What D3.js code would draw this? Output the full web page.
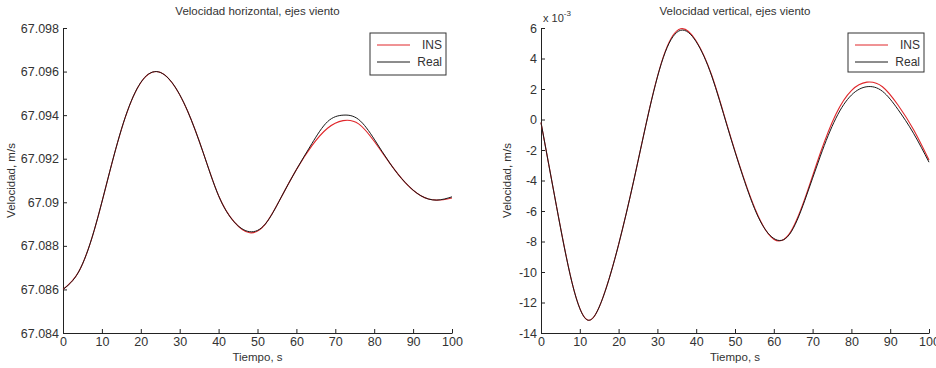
<!DOCTYPE html>
<html>
<head>
<meta charset="utf-8">
<script src="https://cdn.jsdelivr.net/npm/d3@7"></script>
<style>
body{margin:0;background:#fff;}
svg{display:block;font-family:"Liberation Sans",Arial,sans-serif;}
</style>
</head>
<body>
<svg width="936" height="368"></svg>
<script>
// time axis, seconds
var timeS=[0,4,8,12,16,20,24,28,32,36,40,44,48,52,56,60,64,68,72,76,80,84,88,92,96,100];

// horizontal velocity, wind axes (m/s)
var hReal=[67.0860,67.0868,67.0887,67.0914,67.0939,67.0955,67.0960,67.0955,67.0942,67.0923,67.0903,67.0891,67.08865,67.0890,67.0902,67.0915,67.0927,67.0937,67.0940,67.0938,67.0929,67.0918,67.0909,67.0903,67.0901,67.09025];
var hIns=[67.0860,67.0868,67.0887,67.0914,67.0939,67.0955,67.0960,67.0955,67.0942,67.0923,67.0903,67.0891,67.0886,67.0890,67.0902,67.0915,67.0926,67.0934,67.09375,67.0936,67.0928,67.0918,67.0909,67.0903,67.0901,67.0902];

// vertical velocity, wind axes (x 10^-3 m/s)
var vReal=[-0.2,-5.7,-10.7,-13.15,-11.65,-8.2,-3.9,0.73,4.4,5.85,5.1,2.85,-0.45,-3.7,-6.4,-7.8,-7.55,-5.3,-2.4,0.08,1.6,2.15,1.85,0.66,-0.9,-2.8];
var vIns=[-0.2,-5.7,-10.7,-13.15,-11.65,-8.2,-3.9,0.75,4.45,5.95,5.15,2.9,-0.4,-3.65,-6.35,-7.85,-7.5,-5.2,-2.2,0.35,1.9,2.45,2.15,0.95,-0.65,-2.65];

var xTicks=[0,10,20,30,40,50,60,70,80,90,100];
var hTicks=[67.084,67.086,67.088,67.09,67.092,67.094,67.096,67.098];
var hTickLabels=["67.084","67.086","67.088","67.09","67.092","67.094","67.096","67.098"];
var vTicks=[-14,-12,-10,-8,-6,-4,-2,0,2,4,6];

var svg=d3.select("svg");

var panels=[
	{title:"Velocidad horizontal, ejes viento",left:63,right:452,real:hReal,ins:hIns,
	 domain:[67.084,67.098],ticks:hTicks,fmt:function(d,i){return hTickLabels[i]},
	 ylabX:15,legX:370,legH:42},
	{title:"Velocidad vertical, ejes viento",left:541,right:929,real:vReal,ins:vIns,
	 domain:[-14,6],ticks:vTicks,fmt:function(d){return d},
	 ylabX:511,legX:848,legH:39,exp:true}
];

var plotTop=28,plotBottom=333;

panels.forEach(function(p)
{
	var g=svg.append("g");

	var scalex=d3.scaleLinear().domain([0,100]).range([p.left,p.right]);
	var scaley=d3.scaleLinear().domain(p.domain).range([plotBottom,plotTop]);

	var xaxis=d3.axisBottom(scalex).tickValues(xTicks).tickSize(-4).tickSizeOuter(0).tickPadding(4);
	var yaxis=d3.axisLeft(scaley).tickValues(p.ticks).tickFormat(p.fmt).tickSize(-4).tickSizeOuter(0).tickPadding(4);

	var gx=g.append("g").attr("transform","translate(0,"+plotBottom+")").call(xaxis);
	var gy=g.append("g").attr("transform","translate("+p.left+",0)").call(yaxis);

	[gx,gy].forEach(function(a){
		a.select(".domain").attr("stroke","#222");
		a.selectAll(".tick line").attr("stroke","#222");
		a.selectAll(".tick text").attr("fill","#333").style("font-size","12.5px");
	});

	var line=d3.line()
		.x(function(d,i){return scalex(timeS[i])})
		.y(function(d){return scaley(d)})
		.curve(d3.curveNatural);

	g.append("path").datum(p.ins)
		.attr("d",line).attr("fill","none").attr("stroke","#e0262a").attr("stroke-width",1.1);
	g.append("path").datum(p.real)
		.attr("d",line).attr("fill","none").attr("stroke","#1a1a1a").attr("stroke-width",1);

	g.append("text")
		.attr("x",(p.left+p.right)/2).attr("y",15)
		.style("text-anchor","middle").style("font-size","11.5px").attr("fill","#333")
		.text(p.title);

	g.append("text")
		.attr("x",(p.left+p.right)/2).attr("y",361)
		.style("text-anchor","middle").style("font-size","11.5px").attr("fill","#333")
		.text("Tiempo, s");

	g.append("text")
		.attr("transform","translate("+p.ylabX+","+((plotTop+plotBottom)/2)+") rotate(-90)")
		.style("text-anchor","middle").style("font-size","11.5px").attr("fill","#333")
		.text("Velocidad, m/s");

	if(p.exp)
	{
		var ex=g.append("text").attr("x",p.left+2).attr("y",22).style("font-size","11px").attr("fill","#333");
		ex.append("tspan").text("x 10");
		ex.append("tspan").attr("dy","-6").style("font-size","8px").text("-3");
	}

	// legend
	var lg=g.append("g").attr("transform","translate("+p.legX+",33)");
	lg.append("rect").attr("width",76).attr("height",p.legH)
		.attr("fill","#fff").attr("stroke","#333").attr("stroke-width",1);
	[["INS","#e0262a"],["Real","#1a1a1a"]].forEach(function(e,i){
		var yy=12+i*17;
		lg.append("line").attr("x1",7).attr("x2",40).attr("y1",yy).attr("y2",yy)
			.attr("stroke",e[1]).attr("stroke-width",1);
		lg.append("text").attr("x",72).attr("y",yy+4)
			.style("text-anchor","end").style("font-size","12px").attr("fill","#333").text(e[0]);
	});
});
</script>
</body>
</html>
